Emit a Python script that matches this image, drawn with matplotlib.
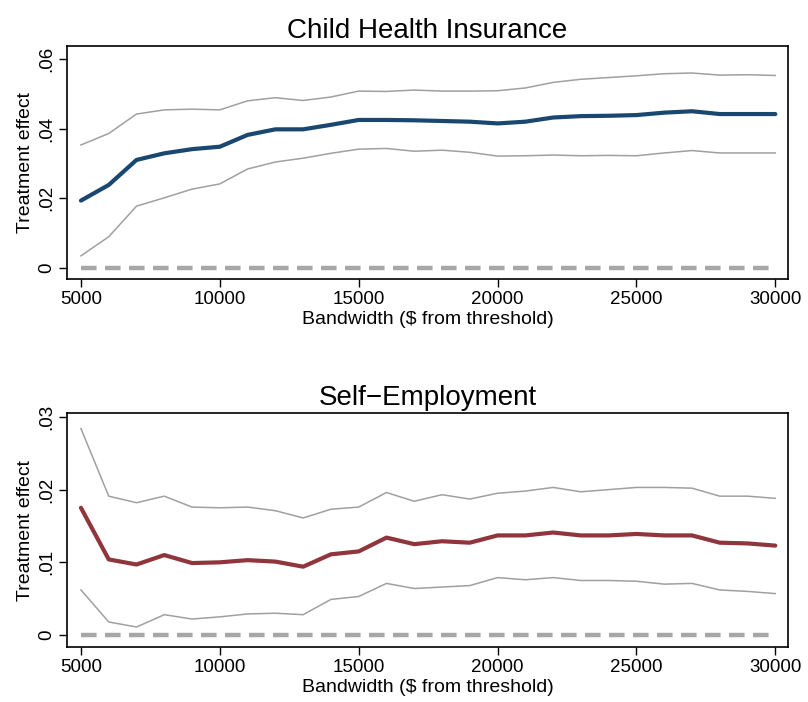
import matplotlib.pyplot as plt
import numpy as np

plt.rcParams['font.family'] = ['Liberation Sans', 'DejaVu Sans']

# bandwidths ($ from threshold)
bandwidth = list(range(5000, 31000, 1000))

# Child health insurance: point estimate and CI bounds
chi_est = [0.0193, 0.0238, 0.0310, 0.0329, 0.0341, 0.0348, 0.0382, 0.0398, 0.0398,
           0.0411, 0.0425, 0.0425, 0.0424, 0.0422, 0.0420, 0.0415, 0.0420, 0.0432,
           0.0436, 0.0437, 0.0439, 0.0446, 0.0450, 0.0442, 0.0442, 0.0442]
chi_hi = [0.0353, 0.0386, 0.0442, 0.0454, 0.0456, 0.0454, 0.0480, 0.0489, 0.0481,
          0.0491, 0.0508, 0.0507, 0.0511, 0.0508, 0.0508, 0.0509, 0.0517, 0.0533,
          0.0542, 0.0547, 0.0552, 0.0558, 0.0560, 0.0554, 0.0555, 0.0553]
chi_lo = [0.0034, 0.0089, 0.0177, 0.0201, 0.0226, 0.0241, 0.0284, 0.0304, 0.0315,
          0.0329, 0.0341, 0.0343, 0.0335, 0.0338, 0.0332, 0.0321, 0.0322, 0.0324,
          0.0322, 0.0323, 0.0322, 0.0330, 0.0337, 0.0330, 0.0330, 0.0330]

# Self-employment: point estimate and CI bounds
se_est = [0.0175, 0.0104, 0.0097, 0.0110, 0.0099, 0.0100, 0.0103, 0.0101, 0.0094,
          0.0111, 0.0115, 0.0134, 0.0125, 0.0129, 0.0127, 0.0137, 0.0137, 0.0141,
          0.0137, 0.0137, 0.0139, 0.0137, 0.0137, 0.0127, 0.0126, 0.0123]
se_hi = [0.0284, 0.0191, 0.0182, 0.0191, 0.0176, 0.0175, 0.0176, 0.0171, 0.0161,
         0.0173, 0.0176, 0.0196, 0.0184, 0.0193, 0.0187, 0.0195, 0.0198, 0.0203,
         0.0197, 0.0200, 0.0203, 0.0203, 0.0202, 0.0191, 0.0191, 0.0188]
se_lo = [0.0062, 0.0018, 0.0011, 0.0028, 0.0022, 0.0025, 0.0029, 0.0030, 0.0028,
         0.0049, 0.0053, 0.0071, 0.0064, 0.0066, 0.0068, 0.0079, 0.0076, 0.0079,
         0.0075, 0.0075, 0.0074, 0.0070, 0.0071, 0.0062, 0.0060, 0.0057]

panels = [
    ('Child Health Insurance', chi_est, chi_lo, chi_hi, '#1a476f',
     [0, 0.02, 0.04, 0.06], ['0', '.02', '.04', '.06'], (-0.00325, 0.0638)),
    ('Self\u2212Employment', se_est, se_lo, se_hi, '#90353b',
     [0, 0.01, 0.02, 0.03], ['0', '.01', '.02', '.03'], (-0.00165, 0.0305)),
]

fig = plt.figure(figsize=(8.08, 7.02), dpi=100)
rects = [[0.083, 0.6026, 0.892, 0.332], [0.083, 0.0783, 0.892, 0.333]]

for rect, (title, est, lo, hi, color, yt, ytl, ylim) in zip(rects, panels):
    ax = fig.add_axes(rect)
    ax.plot(bandwidth, np.zeros(len(bandwidth)), color='#a6a6a6', lw=3.2,
            linestyle=(0, (3.5, 1.9)), dash_capstyle='butt', zorder=1)
    ax.plot(bandwidth, hi, color='#a0a0a0', lw=1.1, zorder=2)
    ax.plot(bandwidth, lo, color='#a0a0a0', lw=1.1, zorder=2)
    ax.plot(bandwidth, est, color=color, lw=3.0, zorder=3, solid_capstyle='round')

    ax.set_xlim(4500, 30450)
    ax.set_ylim(*ylim)
    ax.set_xticks(range(5000, 30001, 5000))
    ax.set_xticklabels([str(v) for v in range(5000, 30001, 5000)], fontsize=13.5)
    ax.set_yticks(yt)
    ax.set_yticklabels(ytl, fontsize=13.5, rotation=90, va='center')
    ax.tick_params(direction='out', length=5.5, width=1, color='black', pad=3)
    for s in ax.spines.values():
        s.set_linewidth(1.2)
    ax.set_title(title, fontsize=20, pad=6)
    ax.set_ylabel('Treatment effect', fontsize=14, labelpad=3)
    ax.set_xlabel('Bandwidth ($ from threshold)', fontsize=14, labelpad=2.5)

fig.savefig('out.png', dpi=100)
